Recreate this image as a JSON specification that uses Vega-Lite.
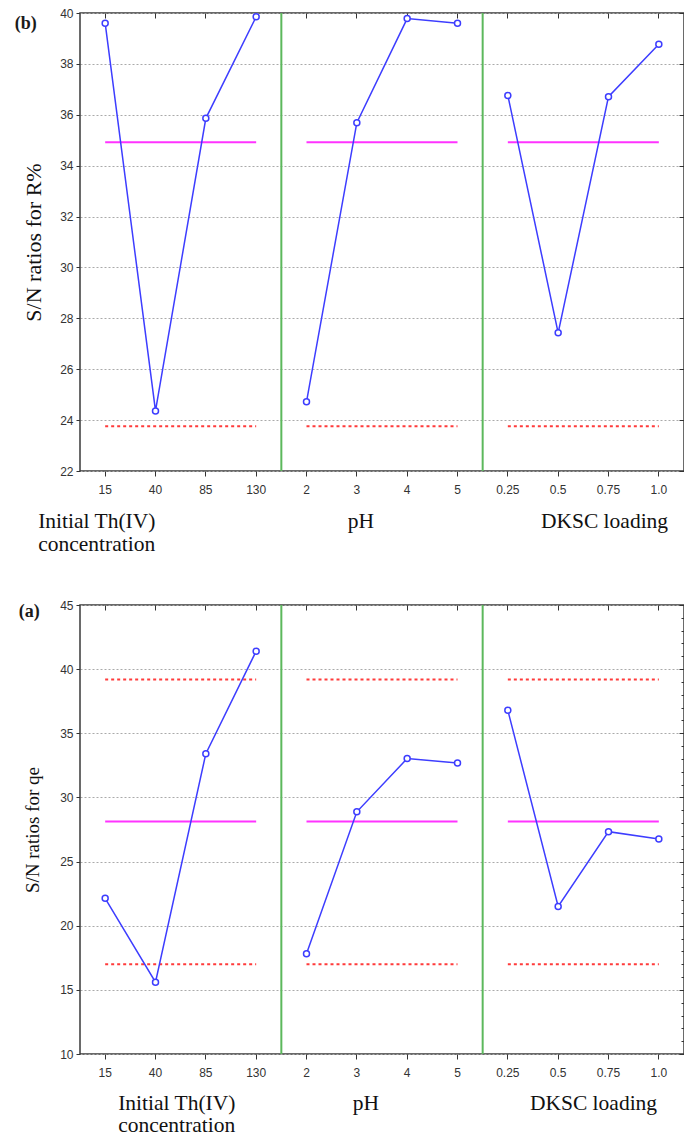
{
  "$schema": "https://vega.github.io/schema/vega-lite/v6.json",
  "padding": {"left": 13, "top": 6, "right": 0, "bottom": 0},
  "background": "white",
  "config": {
    "view": {"stroke": "#3a3a3a", "strokeWidth": 1.5},
    "axis": {
      "labelFont": "Liberation Sans",
      "labelFontSize": 12,
      "labelColor": "#333333",
      "tickColor": "#333333",
      "domain": false,
      "grid": false,
      "titleFont": "Liberation Serif",
      "titleFontWeight": "normal",
      "titleColor": "#111111"
    },
    "title": {"font": "Liberation Serif", "fontWeight": "bold", "fontSize": 18, "color": "#1a1a1a"}
  },
  "datasets": {
    "sn": [
      {"panel": "R", "factor": "Th", "level": "15", "sn": 39.6},
      {"panel": "R", "factor": "Th", "level": "40", "sn": 24.36},
      {"panel": "R", "factor": "Th", "level": "85", "sn": 35.86},
      {"panel": "R", "factor": "Th", "level": "130", "sn": 39.85},
      {"panel": "R", "factor": "pH", "level": "2", "sn": 24.72},
      {"panel": "R", "factor": "pH", "level": "3", "sn": 35.69},
      {"panel": "R", "factor": "pH", "level": "4", "sn": 39.78},
      {"panel": "R", "factor": "pH", "level": "5", "sn": 39.6},
      {"panel": "R", "factor": "DKSC", "level": "0.25", "sn": 36.76},
      {"panel": "R", "factor": "DKSC", "level": "0.5", "sn": 27.43},
      {"panel": "R", "factor": "DKSC", "level": "0.75", "sn": 36.71},
      {"panel": "R", "factor": "DKSC", "level": "1.0", "sn": 38.77},
      {"panel": "qe", "factor": "Th", "level": "15", "sn": 22.14},
      {"panel": "qe", "factor": "Th", "level": "40", "sn": 15.6},
      {"panel": "qe", "factor": "Th", "level": "85", "sn": 33.41},
      {"panel": "qe", "factor": "Th", "level": "130", "sn": 41.4},
      {"panel": "qe", "factor": "pH", "level": "2", "sn": 17.81},
      {"panel": "qe", "factor": "pH", "level": "3", "sn": 28.88},
      {"panel": "qe", "factor": "pH", "level": "4", "sn": 33.03},
      {"panel": "qe", "factor": "pH", "level": "5", "sn": 32.69},
      {"panel": "qe", "factor": "DKSC", "level": "0.25", "sn": 36.79},
      {"panel": "qe", "factor": "DKSC", "level": "0.5", "sn": 21.5},
      {"panel": "qe", "factor": "DKSC", "level": "0.75", "sn": 27.33},
      {"panel": "qe", "factor": "DKSC", "level": "1.0", "sn": 26.76}
    ],
    "refs": [
      {"panel": "R", "kind": "mean", "from": "15", "to": "130", "value": 34.92},
      {"panel": "R", "kind": "mean", "from": "2", "to": "5", "value": 34.92},
      {"panel": "R", "kind": "mean", "from": "0.25", "to": "1.0", "value": 34.92},
      {"panel": "R", "kind": "limit", "from": "15", "to": "130", "value": 23.76},
      {"panel": "R", "kind": "limit", "from": "2", "to": "5", "value": 23.76},
      {"panel": "R", "kind": "limit", "from": "0.25", "to": "1.0", "value": 23.76},
      {"panel": "qe", "kind": "mean", "from": "15", "to": "130", "value": 28.12},
      {"panel": "qe", "kind": "mean", "from": "2", "to": "5", "value": 28.12},
      {"panel": "qe", "kind": "mean", "from": "0.25", "to": "1.0", "value": 28.12},
      {"panel": "qe", "kind": "limit", "from": "15", "to": "130", "value": 39.2},
      {"panel": "qe", "kind": "limit", "from": "2", "to": "5", "value": 39.2},
      {"panel": "qe", "kind": "limit", "from": "0.25", "to": "1.0", "value": 39.2},
      {"panel": "qe", "kind": "limit", "from": "15", "to": "130", "value": 17.0},
      {"panel": "qe", "kind": "limit", "from": "2", "to": "5", "value": 17.0},
      {"panel": "qe", "kind": "limit", "from": "0.25", "to": "1.0", "value": 17.0}
    ],
    "dividers": [{"after": "130"}, {"after": "5"}]
  },
  "columns": 1,
  "spacing": 42,
  "concat": [
    {
      "width": 604,
      "height": 458,
      "title": {"text": "(b)", "anchor": "start", "frame": "bounds", "offset": -26, "dx": -8},
      "resolve": {"axis": {"x": "independent", "y": "independent"}},
      "layer": [
        {
          "data": {"name": "dividers"},
          "mark": {"type": "rule", "color": "#5cb85c", "strokeWidth": 2},
          "encoding": {
            "x": {
              "field": "after", "type": "ordinal", "bandPosition": 1,
              "scale": {"type": "band", "domain": ["15", "40", "85", "130", "2", "3", "4", "5", "0.25", "0.5", "0.75", "1.0"], "paddingInner": 0, "paddingOuter": 0},
              "axis": {
                "orient": "bottom", "title": null, "ticks": false, "values": ["15", "3", "0.75"], "labelAngle": 0,
                "labelExpr": "datum.value == '15' ? ['Initial Th(IV)', 'concentration'] : datum.value == '3' ? 'pH' : 'DKSC loading'",
                "labelFont": "Liberation Serif", "labelFontSize": 21.5, "labelColor": "#111111",
                "labelLineHeight": 23, "labelBaseline": "top", "labelPadding": 39,
                "labelAlign": {"condition": {"test": "datum.value == '15'", "value": "left"}, "value": "center"},
                "labelOffset": {"condition": [{"test": "datum.value == '15'", "value": -67}, {"test": "datum.value == '3'", "value": 4}], "value": -4},
                "labelOverlap": false
              }
            }
          }
        },
        {
          "data": {"name": "refs"},
          "transform": [{"filter": "datum.panel == 'R' && datum.kind == 'mean'"}],
          "mark": {"type": "rule", "color": "#ff33ff", "strokeWidth": 2},
          "encoding": {
            "x": {"field": "from", "type": "ordinal", "scale": {"type": "band", "domain": ["15", "40", "85", "130", "2", "3", "4", "5", "0.25", "0.5", "0.75", "1.0"], "paddingInner": 0, "paddingOuter": 0},
                  "axis": {"orient": "top", "title": null, "labels": false, "tickSize": -5}},
            "x2": {"field": "to"},
            "y": {"field": "value", "type": "quantitative", "scale": {"domain": [22, 40], "nice": false, "zero": false},
                  "axis": {"orient": "right", "title": null, "labels": false, "tickSize": -5, "values": [22, 24, 26, 28, 30, 32, 34, 36, 38, 40]}}
          }
        },
        {
          "data": {"name": "refs"},
          "transform": [{"filter": "datum.panel == 'R' && datum.kind == 'limit'"}],
          "mark": {"type": "rule", "color": "#ff3b3b", "strokeWidth": 2, "strokeDash": [3, 3]},
          "encoding": {
            "x": {"field": "from", "type": "ordinal", "axis": null},
            "x2": {"field": "to"},
            "y": {"field": "value", "type": "quantitative", "axis": null}
          }
        },
        {
          "data": {"name": "sn"},
          "transform": [{"filter": "datum.panel == 'R'"}],
          "mark": {"type": "line", "color": "#3d3dff", "strokeWidth": 1.5},
          "encoding": {
            "x": {"field": "level", "type": "ordinal",
                  "axis": {"orient": "bottom", "title": null, "labelAngle": 0, "tickSize": 5, "labelPadding": 8}},
            "y": {"field": "sn", "type": "quantitative",
                  "axis": {"orient": "left", "title": "S/N ratios for R%", "titleFontSize": 22, "titlePadding": 14,
                           "values": [22, 24, 26, 28, 30, 32, 34, 36, 38, 40], "tickSize": 4, "labelPadding": 3,
                           "grid": true, "gridColor": "#aaaaaa", "gridDash": [2, 2], "gridWidth": 1}},
            "detail": {"field": "factor"},
            "order": {"value": null}
          }
        },
        {
          "data": {"name": "sn"},
          "transform": [{"filter": "datum.panel == 'R'"}],
          "mark": {"type": "point", "shape": "circle", "filled": true, "fill": "white", "stroke": "#3d3dff", "strokeWidth": 1.5, "size": 36, "opacity": 1},
          "encoding": {
            "x": {"field": "level", "type": "ordinal", "axis": null},
            "y": {"field": "sn", "type": "quantitative", "axis": null}
          }
        }
      ]
    },
    {
      "width": 604,
      "height": 449,
      "title": {"text": "(a)", "anchor": "start", "frame": "bounds", "offset": -22, "dx": -5},
      "resolve": {"axis": {"x": "independent", "y": "independent"}},
      "layer": [
        {
          "data": {"name": "dividers"},
          "mark": {"type": "rule", "color": "#5cb85c", "strokeWidth": 2},
          "encoding": {
            "x": {
              "field": "after", "type": "ordinal", "bandPosition": 1,
              "scale": {"type": "band", "domain": ["15", "40", "85", "130", "2", "3", "4", "5", "0.25", "0.5", "0.75", "1.0"], "paddingInner": 0, "paddingOuter": 0},
              "axis": {
                "orient": "bottom", "title": null, "ticks": false, "values": ["15", "3", "0.75"], "labelAngle": 0,
                "labelExpr": "datum.value == '15' ? ['Initial Th(IV)', 'concentration'] : datum.value == '3' ? 'pH' : 'DKSC loading'",
                "labelFont": "Liberation Serif", "labelFontSize": 21.5, "labelColor": "#111111",
                "labelLineHeight": 22, "labelBaseline": "top", "labelPadding": 38,
                "labelAlign": {"condition": {"test": "datum.value == '15'", "value": "left"}, "value": "center"},
                "labelOffset": {"condition": [{"test": "datum.value == '15'", "value": 13}, {"test": "datum.value == '3'", "value": 9}], "value": -15},
                "labelOverlap": false
              }
            }
          }
        },
        {
          "data": {"name": "refs"},
          "transform": [{"filter": "datum.panel == 'qe' && datum.kind == 'mean'"}],
          "mark": {"type": "rule", "color": "#ff33ff", "strokeWidth": 2},
          "encoding": {
            "x": {"field": "from", "type": "ordinal", "scale": {"type": "band", "domain": ["15", "40", "85", "130", "2", "3", "4", "5", "0.25", "0.5", "0.75", "1.0"], "paddingInner": 0, "paddingOuter": 0},
                  "axis": {"orient": "top", "title": null, "labels": false, "tickSize": -5}},
            "x2": {"field": "to"},
            "y": {"field": "value", "type": "quantitative", "scale": {"domain": [10, 45], "nice": false, "zero": false},
                  "axis": {"orient": "right", "title": null, "labels": false, "tickSize": -5, "values": [10, 15, 20, 25, 30, 35, 40, 45]}}
          }
        },
        {
          "data": {"name": "refs"},
          "transform": [{"filter": "datum.panel == 'qe' && datum.kind == 'limit'"}],
          "mark": {"type": "rule", "color": "#ff3b3b", "strokeWidth": 2, "strokeDash": [3, 3]},
          "encoding": {
            "x": {"field": "from", "type": "ordinal", "axis": null},
            "x2": {"field": "to"},
            "y": {"field": "value", "type": "quantitative",
                  "axis": {"orient": "right", "title": null, "labels": false, "tickSize": -3,
                           "values": [11, 12, 13, 14, 16, 17, 18, 19, 21, 22, 23, 24, 26, 27, 28, 29, 31, 32, 33, 34, 36, 37, 38, 39, 41, 42, 43, 44]}}
          }
        },
        {
          "data": {"name": "sn"},
          "transform": [{"filter": "datum.panel == 'qe'"}],
          "mark": {"type": "line", "color": "#3d3dff", "strokeWidth": 1.5},
          "encoding": {
            "x": {"field": "level", "type": "ordinal",
                  "axis": {"orient": "bottom", "title": null, "labelAngle": 0, "tickSize": 5, "labelPadding": 8}},
            "y": {"field": "sn", "type": "quantitative",
                  "axis": {"orient": "left", "title": "S/N ratios for qe", "titleFontSize": 19, "titlePadding": 17,
                           "values": [10, 15, 20, 25, 30, 35, 40, 45], "tickSize": 4, "labelPadding": 3,
                           "grid": true, "gridColor": "#aaaaaa", "gridDash": [2, 2], "gridWidth": 1}},
            "detail": {"field": "factor"},
            "order": {"value": null}
          }
        },
        {
          "data": {"name": "sn"},
          "transform": [{"filter": "datum.panel == 'qe'"}],
          "mark": {"type": "point", "shape": "circle", "filled": true, "fill": "white", "stroke": "#3d3dff", "strokeWidth": 1.5, "size": 36, "opacity": 1},
          "encoding": {
            "x": {"field": "level", "type": "ordinal", "axis": null},
            "y": {"field": "sn", "type": "quantitative", "axis": null}
          }
        }
      ]
    }
  ]
}
